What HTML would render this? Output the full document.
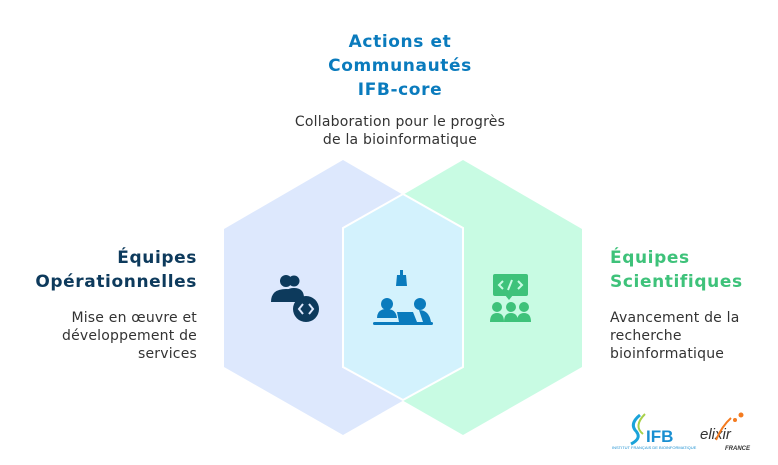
<!DOCTYPE html>
<html><head><meta charset="utf-8"><style>
body{margin:0;width:778px;height:465px;background:#fff;position:relative;overflow:hidden;font-family:"DejaVu Sans","Liberation Sans",sans-serif}
.t{position:absolute;font-weight:bold;font-size:17px;line-height:24px;letter-spacing:0.6px}
.b{position:absolute;font-size:14px;line-height:18px;color:#333;letter-spacing:0.2px}
</style></head><body>
<svg width="778" height="465" style="position:absolute;left:0;top:0">
<polygon points="343,160 462,229 462,367 343,435 224,367 224,229" fill="#dde8fd"/>
<polygon points="463,160 582,229 582,367 463,435 344,367 344,229" fill="#c8fbe3"/>
<polygon points="403,194 463,228 463,367 403,400 343,367 343,228" fill="#d3f2fd" stroke="#fff" stroke-width="2"/>
<g fill="#0d3a5c">
<circle cx="294" cy="281" r="5.5"/><path d="M284 298 q0-10 10-10 q10 0 10 10z"/>
<circle cx="286" cy="281" r="6"/><path d="M271 302 q0-13 15-13 q13 0 15 10 l0 3z"/>
<circle cx="306" cy="309" r="13"/>
</g>
<path d="M303 304 l-4 5 4 5 M309 304 l4 5 -4 5" stroke="#dde8fd" stroke-width="2" fill="none"/>
<g fill="#0a7bbd">
<rect x="400" y="270" width="3" height="5"/><path d="M397 275 h9 l1 11 h-11z"/>
<circle cx="387" cy="304" r="6"/><path d="M377 318 q0-9 10-9 q9 0 10 9z"/>
<circle cx="420" cy="304" r="6"/><path d="M419 310 q10 0 12 12 h-8z"/>
<path d="M397 312 h16 l4 10 h-18z"/>
<rect x="373" y="322" width="60" height="3" rx="1.5"/>
</g>
<g fill="#3ec27a">
<rect x="493" y="274" width="35" height="22" rx="2"/><path d="M505 295 l4 5 4-5z"/>
<circle cx="497" cy="307" r="5"/><circle cx="511" cy="307" r="5"/><circle cx="524" cy="307" r="5"/>
<path d="M490 322 q0-9 7-9 q7 0 7 9z M504 322 q0-9 7-9 q7 0 7 9z M517 322 q0-9 7-9 q7 0 7 9z"/>
</g>
<path d="M503 281 l-4 4 4 4 M518 281 l4 4 -4 4 M508 290 l4-10" stroke="#c8fbe3" stroke-width="2" fill="none"/>
<path d="M640 415 q-10 8 -5 15 q8 8 -4 14" stroke="#1aa3d9" stroke-width="3" fill="none"/>
<path d="M645 414 q-12 12 -2 20" stroke="#a8d04a" stroke-width="2" fill="none"/>
<text x="646" y="442" font-family="Liberation Sans" font-weight="bold" font-size="17" fill="#1a8fd1">IFB</text>
<text x="612" y="449" font-family="Liberation Sans" font-size="4" fill="#1a8fd1">INSTITUT FRANÇAIS DE BIOINFORMATIQUE</text>
<text x="700" y="439" font-family="Liberation Sans" font-style="italic" font-size="15" fill="#333">elixir</text>
<path d="M716 440 q6-14 15-22" stroke="#f47b20" stroke-width="2" fill="none"/>
<circle cx="741" cy="415" r="2.5" fill="#f47b20"/><circle cx="735" cy="420" r="2" fill="#f47b20"/>
<text x="725" y="450" font-family="Liberation Sans" font-weight="bold" font-style="italic" font-size="6" fill="#333">FRANCE</text>
</svg>
<div class="t" style="left:250px;width:300px;top:30px;text-align:center;color:#0a7bbd">Actions et<br>Communautés<br>IFB-core</div>
<div class="b" style="left:250px;width:300px;top:113px;text-align:center">Collaboration pour le progrès<br>de la bioinformatique</div>
<div class="t" style="left:0;width:197px;top:246px;text-align:right;color:#0d3a5c">Équipes<br>Opérationnelles</div>
<div class="b" style="left:0;width:197px;top:309px;text-align:right">Mise en œuvre et<br>développement de<br>services</div>
<div class="t" style="left:610px;width:170px;top:246px;color:#3ec27a">Équipes<br>Scientifiques</div>
<div class="b" style="left:610px;width:170px;top:309px">Avancement de la<br>recherche<br>bioinformatique</div>
</body></html>
